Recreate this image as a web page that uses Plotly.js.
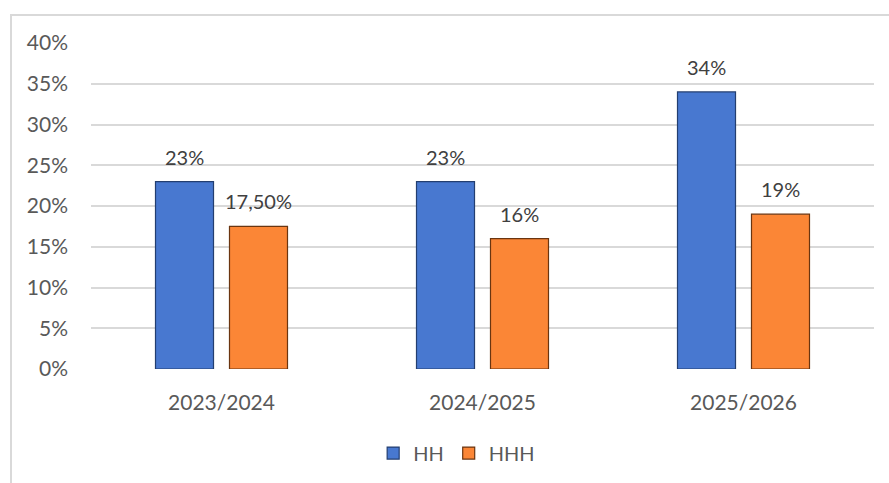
<!DOCTYPE html>
<html>
<head>
<meta charset="utf-8">
<script src="https://cdn.plot.ly/plotly-3.0.1.min.js"></script>
<style>
html,body{margin:0;padding:0;background:#fff;}
#wrap{position:relative;width:889px;height:483px;overflow:hidden;}
#chart{width:889px;height:483px;}
#frame{position:absolute;left:10px;top:14px;width:900px;height:500px;border-left:2px solid #d9d9d9;border-top:2px solid #d9d9d9;pointer-events:none;}
</style>
</head>
<body>
<div id="wrap"><div id="chart"></div><div id="frame"></div></div>
<script>
const categories = ['2023/2024', '2024/2025', '2025/2026'];
const seriesNames = ['HH', 'HHH'];
const hhValues = [0.23, 0.23, 0.34];
const hhhValues = [0.175, 0.16, 0.19];
const hhLabels = ['23%', '23%', '34%'];
const hhhLabels = ['17,50%', '16%', '19%'];
const yTickVals = [0, 0.05, 0.10, 0.15, 0.20, 0.25, 0.30, 0.35, 0.40];
const yTickText = ['0%', '5%', '10%', '15%', '20%', '25%', '30%', '35%', '40%'];

const FONT = 'Lato, "Open Sans", sans-serif';
const colors = ['#4878D0', '#FB8636'];
const lineColors = ['#233E70', '#6A3510'];

const traces = [hhValues, hhhValues].map((vals, i) => ({
  type: 'bar',
  name: seriesNames[i],
  x: categories,
  y: vals,
  marker: {color: colors[i], line: {color: lineColors[i], width: 1.2}},
  hoverinfo: 'skip'
}));

const annotations = [];
[[hhValues, hhLabels, -37], [hhhValues, hhhLabels, 37]].forEach(([vals, labs, dx]) => {
  vals.forEach((v, j) => {
    annotations.push({
      x: categories[j], y: v, xref: 'x', yref: 'y',
      text: labs[j], showarrow: false,
      xanchor: 'center', yanchor: 'bottom',
      xshift: dx, yshift: 11,
      font: {family: FONT, size: 20, color: '#404040'}
    });
  });
});

const layout = {
  width: 889, height: 483,
  margin: {l: 91, r: 15, t: 43, b: 113},
  paper_bgcolor: '#ffffff', plot_bgcolor: '#ffffff',
  barmode: 'group',
  bargap: 0.433,
  bargroupgap: 0.216,
  font: {family: FONT, size: 20, color: '#595959'},
  xaxis: {
    type: 'category',
    showgrid: false, zeroline: false, showline: false,
    ticks: '', ticklabelstandoff: 19,
    tickfont: {family: FONT, size: 21, color: '#595959'}
  },
  yaxis: {
    range: [0, 0.40],
    tickvals: yTickVals, ticktext: yTickText,
    showgrid: true, gridcolor: '#d9d9d9', gridwidth: 2,
    zeroline: false, showline: false, ticks: '',
    ticklabelstandoff: 22,
    tickfont: {family: FONT, size: 21, color: '#595959'}
  },
  legend: {
    orientation: 'h', x: 0.467, xanchor: 'center', y: -0.254, yanchor: 'middle',
    font: {family: FONT, size: 20, color: '#595959'},
    itemwidth: 30
  },
  annotations: annotations,
  showlegend: true
};

Plotly.newPlot('chart', traces, layout, {displayModeBar: false, staticPlot: true});
</script>
</body>
</html>
